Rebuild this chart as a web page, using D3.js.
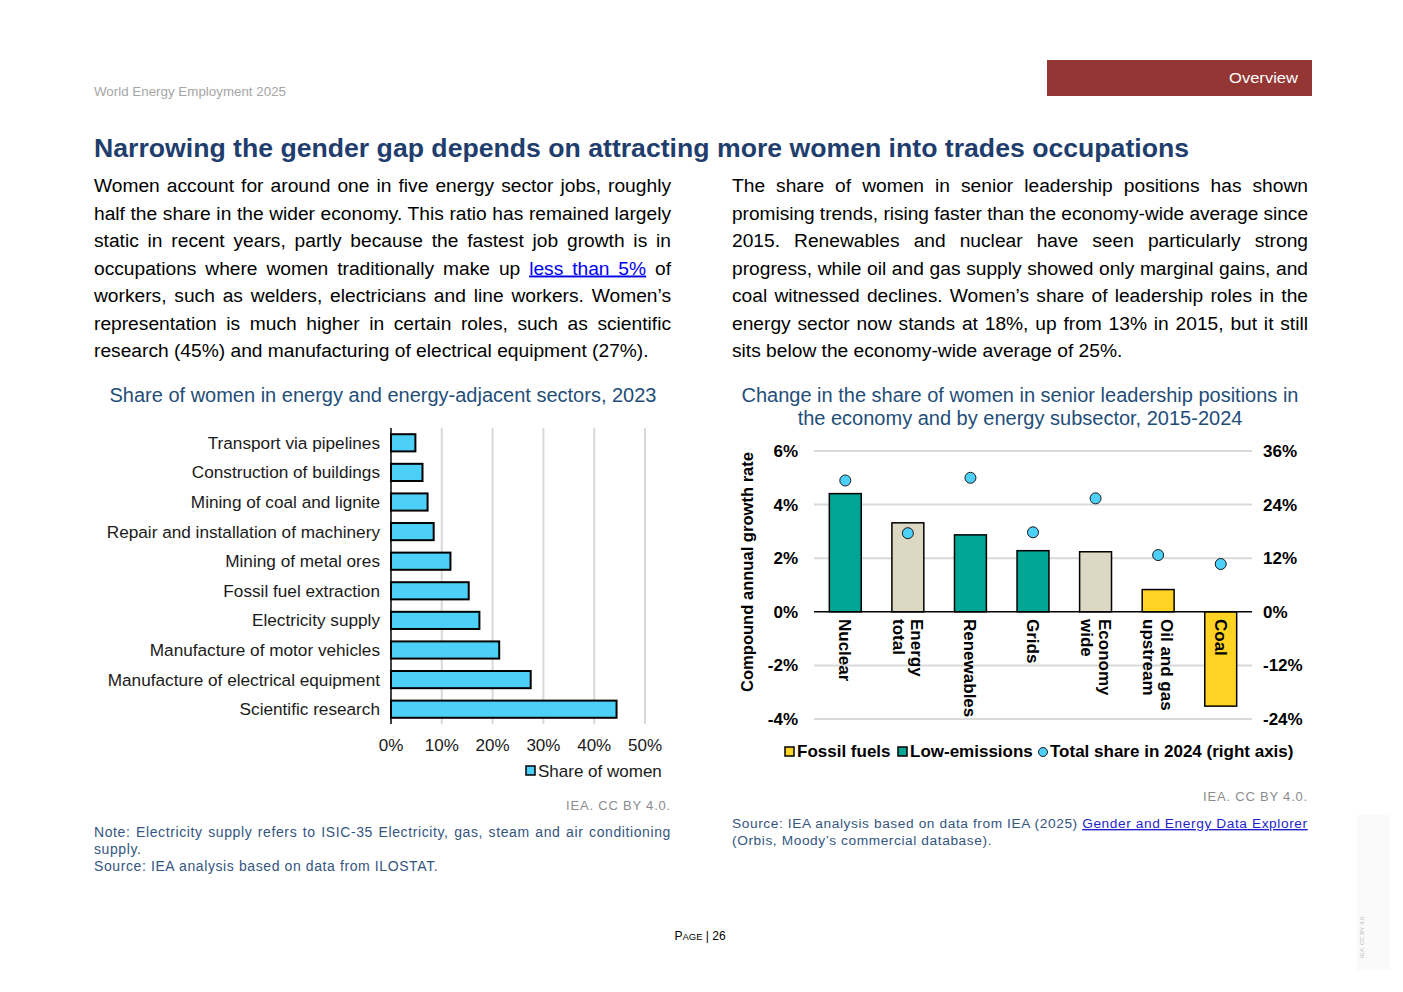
<!DOCTYPE html>
<html>
<head>
<meta charset="utf-8">
<script src="https://cdn.jsdelivr.net/npm/d3@7"></script>
<style>
  html, body { margin: 0; padding: 0; background: #fff; }
  svg { display: block; font-family: "Liberation Sans", Arial, sans-serif; }
</style>
</head>
<body>
<svg id="page" width="1403" height="992"></svg>
<script>
// ---------------- DATA ----------------
const sectorCategories = [
  "Transport via pipelines",
  "Construction of buildings",
  "Mining of coal and lignite",
  "Repair and installation of machinery",
  "Mining of metal ores",
  "Fossil fuel extraction",
  "Electricity supply",
  "Manufacture of motor vehicles",
  "Manufacture of electrical equipment",
  "Scientific research"
];
const shareOfWomen = [4.8, 6.2, 7.2, 8.4, 11.7, 15.3, 17.4, 21.3, 27.5, 44.4];
const leftTicks = [0, 10, 20, 30, 40, 50];

const subsectorLabels = [
  ["Nuclear"], ["Energy", "total"], ["Renewables"], ["Grids"],
  ["Economy", "wide"], ["Oil and gas", "upstream"], ["Coal"]
];
const subsectorGroup = ["low", "total", "low", "low", "total", "fossil", "fossil"];
const cagrValues = [4.41, 3.32, 2.87, 2.28, 2.24, 0.83, -3.52];
const totalShare2024 = [29.4, 17.6, 30.0, 17.8, 25.4, 12.7, 10.7];
const leftAxisTicks = [-4, -2, 0, 2, 4, 6];
const rightAxisTicks = [-24, -12, 0, 12, 24, 36];
const legendItems = ["Fossil fuels", "Low-emissions", "Total share in 2024 (right axis)"];

const paraLeft = [
  "Women account for around one in five energy sector jobs, roughly",
  "half the share in the wider economy. This ratio has remained largely",
  "static in recent years, partly because the fastest job growth is in",
  "occupations where women traditionally make up |less than 5%| of",
  "workers, such as welders, electricians and line workers. Women’s",
  "representation is much higher in certain roles, such as scientific",
  "research (45%) and manufacturing of electrical equipment (27%)."
];
const paraRight = [
  "The share of women in senior leadership positions has shown",
  "promising trends, rising faster than the economy-wide average since",
  "2015. Renewables and nuclear have seen particularly strong",
  "progress, while oil and gas supply showed only marginal gains, and",
  "coal witnessed declines. Women’s share of leadership roles in the",
  "energy sector now stands at 18%, up from 13% in 2015, but it still",
  "sits below the economy-wide average of 25%."
];

// ---------------- STYLE ----------------
const C = {
  navy: "#1F3E6E",
  chartTitle: "#1F4E79",
  cyan: "#4DD0F7",
  teal: "#00A693",
  beige: "#DDD8C4",
  yellow: "#FFD324",
  grid: "#D9D9D9",
  note: "#34557F",
  gray: "#8C8C8C"
};

const svg = d3.select("#page");

// ---------------- HEADER ----------------
svg.append("text").attr("x", 94).attr("y", 96)
  .attr("font-size", 12.5).attr("fill", "#A6A6A6")
  .attr("textLength", 192).attr("lengthAdjust", "spacingAndGlyphs")
  .text("World Energy Employment 2025");
svg.append("rect").attr("x", 1047).attr("y", 60).attr("width", 265).attr("height", 36).attr("fill", "#943634");
svg.append("text").attr("x", 1298).attr("y", 83).attr("text-anchor", "end")
  .attr("font-size", 15).attr("fill", "#fff")
  .attr("textLength", 69).attr("lengthAdjust", "spacingAndGlyphs").text("Overview");

svg.append("text").attr("x", 94).attr("y", 157)
  .attr("font-size", 25).attr("font-weight", "bold").attr("fill", C.navy)
  .attr("textLength", 1095).attr("lengthAdjust", "spacingAndGlyphs")
  .text("Narrowing the gender gap depends on attracting more women into trades occupations");

// ---------------- PARAGRAPHS ----------------
function paragraph(lines, x0, x1, y0) {
  const lh = 27.5;
  lines.forEach((line, i) => {
    const t = svg.append("text").attr("x", x0).attr("y", y0 + i * lh)
      .attr("font-size", 19.2).attr("fill", "#000");
    const parts = line.split("|");
    parts.forEach((p, j) => {
      const ts = t.append("tspan").text(p);
      if (j % 2 === 1) ts.attr("fill", "#0000EE").attr("text-decoration", "underline");
    });
    if (i < lines.length - 1) {
      const natural = t.node().getComputedTextLength();
      const spaces = (line.match(/ /g) || []).length;
      if (spaces > 0) {
        const ws = (x1 - x0 - natural) / spaces;
        if (ws >= 0) t.attr("word-spacing", ws);
        else t.attr("textLength", x1 - x0).attr("lengthAdjust", "spacingAndGlyphs");
      }
    }
  });
}
paragraph(paraLeft, 94, 671, 192);
paragraph(paraRight, 732, 1308, 192);

// ---------------- LEFT CHART ----------------
svg.append("text").attr("x", 383).attr("y", 402).attr("text-anchor", "middle")
  .attr("font-size", 20).attr("fill", C.chartTitle)
  .text("Share of women in energy and energy-adjacent sectors, 2023");

const lx = d3.scaleLinear().domain([0, 50]).range([391, 645]);
const ly = d3.scaleBand().domain(sectorCategories).range([428, 724])
  .paddingInner(0.42).paddingOuter(0.21);

const lg = svg.append("g");
lg.selectAll("line.grid").data(leftTicks.slice(1)).enter().append("line")
  .attr("x1", d => lx(d)).attr("x2", d => lx(d))
  .attr("y1", 428).attr("y2", 724)
  .attr("stroke", C.grid).attr("stroke-width", 2);

lg.selectAll("rect.bar").data(shareOfWomen).enter().append("rect")
  .attr("x", lx(0)).attr("y", (d, i) => ly(sectorCategories[i]))
  .attr("width", d => lx(d) - lx(0)).attr("height", ly.bandwidth())
  .attr("fill", C.cyan).attr("stroke", "#000").attr("stroke-width", 2);

lg.append("line").attr("x1", lx(0)).attr("x2", lx(0)).attr("y1", 428).attr("y2", 724)
  .attr("stroke", "#000").attr("stroke-width", 1.5);

lg.selectAll("text.cat").data(sectorCategories).enter().append("text")
  .attr("x", 380).attr("y", d => ly(d) + ly.bandwidth() / 2 + 6)
  .attr("text-anchor", "end").attr("font-size", 17.2).attr("fill", "#1a1a1a")
  .text(d => d);

lg.selectAll("text.tick").data(leftTicks).enter().append("text")
  .attr("x", d => lx(d)).attr("y", 751).attr("text-anchor", "middle")
  .attr("font-size", 17).attr("fill", "#1a1a1a")
  .text(d => d + "%");

lg.append("rect").attr("x", 526).attr("y", 766).attr("width", 9).attr("height", 9)
  .attr("fill", C.cyan).attr("stroke", "#000").attr("stroke-width", 1.5);
lg.append("text").attr("x", 538).attr("y", 777).attr("font-size", 17).attr("fill", "#1a1a1a")
  .text("Share of women");

svg.append("text").attr("x", 671).attr("y", 810).attr("text-anchor", "end")
  .attr("font-size", 13).attr("fill", C.gray).attr("letter-spacing", 0.8).text("IEA. CC BY 4.0.");

function noteLine(str, x, y, justifyTo, linkPart, size) {
  const t = svg.append("text").attr("x", x).attr("y", y).attr("font-size", size || 14)
    .attr("fill", C.note).attr("letter-spacing", 0.6);
  if (linkPart) {
    const [a, b] = str.split("|");
    t.append("tspan").text(a);
    t.append("tspan").text(b).attr("fill", "#1F1FCC").attr("text-decoration", "underline");
  } else t.text(str);
  if (justifyTo) {
    const natural = t.node().getComputedTextLength();
    const spaces = (str.match(/ /g) || []).length;
    const ws = (justifyTo - x - natural) / spaces;
    if (ws >= 0) t.attr("word-spacing", ws);
    else t.attr("textLength", justifyTo - x).attr("lengthAdjust", "spacingAndGlyphs");
  }
  return t;
}
noteLine("Note: Electricity supply refers to ISIC-35 Electricity, gas, steam and air conditioning", 94, 837, 671);
noteLine("supply.", 94, 854);
noteLine("Source: IEA analysis based on data from ILOSTAT.", 94, 871);

// ---------------- RIGHT CHART ----------------
svg.append("text").attr("x", 1020).attr("y", 402).attr("text-anchor", "middle")
  .attr("font-size", 20).attr("fill", C.chartTitle)
  .text("Change in the share of women in senior leadership positions in");
svg.append("text").attr("x", 1020).attr("y", 425).attr("text-anchor", "middle")
  .attr("font-size", 20).attr("fill", C.chartTitle)
  .text("the economy and by energy subsector, 2015-2024");

const rx = d3.scaleBand().domain(d3.range(subsectorLabels.length)).range([814, 1252])
  .paddingInner(0.49).paddingOuter(0.245);
const ry = d3.scaleLinear().domain([-4, 6]).range([719, 451]);
const ry2 = d3.scaleLinear().domain([-24, 36]).range([719, 451]);
const groupColor = { low: C.teal, total: C.beige, fossil: C.yellow };

const rg = svg.append("g").attr("font-weight", "bold");
rg.selectAll("line.grid").data(leftAxisTicks.filter(d => d !== 0)).enter().append("line")
  .attr("x1", 814).attr("x2", 1252).attr("y1", d => ry(d)).attr("y2", d => ry(d))
  .attr("stroke", C.grid).attr("stroke-width", 2);

rg.selectAll("rect.bar").data(cagrValues).enter().append("rect")
  .attr("x", (d, i) => rx(i)).attr("width", rx.bandwidth())
  .attr("y", d => ry(Math.max(0, d))).attr("height", d => Math.abs(ry(d) - ry(0)))
  .attr("fill", (d, i) => groupColor[subsectorGroup[i]])
  .attr("stroke", "#000").attr("stroke-width", 1.5);

rg.append("line").attr("x1", 814).attr("x2", 1252).attr("y1", ry(0)).attr("y2", ry(0))
  .attr("stroke", "#000").attr("stroke-width", 1.5);

rg.selectAll("circle.dot").data(totalShare2024).enter().append("circle")
  .attr("cx", (d, i) => rx(i) + rx.bandwidth() / 2).attr("cy", d => ry2(d)).attr("r", 5.5)
  .attr("fill", C.cyan).attr("stroke", "#1a1a1a").attr("stroke-width", 1);

rg.selectAll("text.lt").data(leftAxisTicks).enter().append("text")
  .attr("x", 798).attr("y", d => ry(d) + 6).attr("text-anchor", "end")
  .attr("font-size", 17).attr("fill", "#000").text(d => d + "%");
rg.selectAll("text.rt").data(rightAxisTicks).enter().append("text")
  .attr("x", 1263).attr("y", d => ry2(d) + 6).attr("text-anchor", "start")
  .attr("font-size", 17).attr("fill", "#000").text(d => d + "%");

rg.append("text").attr("transform", "translate(753,572) rotate(-90)")
  .attr("text-anchor", "middle").attr("font-size", 17).attr("fill", "#000")
  .attr("textLength", 240).attr("lengthAdjust", "spacingAndGlyphs")
  .text("Compound annual growth rate");

subsectorLabels.forEach((lines, i) => {
  const cx = rx(i) + rx.bandwidth() / 2;
  const t = rg.append("text").attr("transform", `translate(${cx},619) rotate(90)`)
    .attr("font-size", 17).attr("fill", "#000");
  const lh = 18;
  const n = lines.length;
  lines.forEach((ln, j) => {
    t.append("tspan").attr("x", 0).attr("y", (j - (n - 1) / 2) * lh + 6).text(ln);
  });
});

// legend
const legX = [785, 898, 1038];
const legY = 751;
legendItems.forEach((item, i) => {
  const x = legX[i];
  if (i < 2) {
    rg.append("rect").attr("x", x).attr("y", legY - 4).attr("width", 9).attr("height", 9)
      .attr("fill", i === 0 ? C.yellow : C.teal).attr("stroke", "#000").attr("stroke-width", 1.5);
  } else {
    rg.append("circle").attr("cx", x + 5).attr("cy", legY + 1).attr("r", 4.5)
      .attr("fill", C.cyan).attr("stroke", "#1a1a1a").attr("stroke-width", 1);
  }
  rg.append("text").attr("x", x + 12).attr("y", legY + 6)
    .attr("font-size", 17).attr("fill", "#000").text(item);
});

svg.append("text").attr("x", 1308).attr("y", 801).attr("text-anchor", "end")
  .attr("font-size", 13).attr("fill", C.gray).attr("letter-spacing", 0.8).text("IEA. CC BY 4.0.");
noteLine("Source: IEA analysis based on data from IEA (2025) |Gender and Energy Data Explorer", 732, 828, null, true, 13.7);
noteLine("(Orbis, Moody’s commercial database).", 732, 845, null, false, 13.7);

// ---------------- FOOTER ----------------
const pg = svg.append("text").attr("x", 700).attr("y", 940).attr("text-anchor", "middle")
  .attr("font-size", 12).attr("fill", "#000");
pg.append("tspan").text("P");
pg.append("tspan").attr("font-size", 9.5).text("AGE");
pg.append("tspan").text(" | 26");

svg.append("rect").attr("x", 1357).attr("y", 815).attr("width", 33).attr("height", 155).attr("fill", "#FAFAFA");
svg.append("text").attr("transform", "translate(1364,958) rotate(-90)")
  .attr("font-size", 6).attr("fill", "#BBBBBB").text("IEA. CC BY 4.0.");
</script>
</body>
</html>
